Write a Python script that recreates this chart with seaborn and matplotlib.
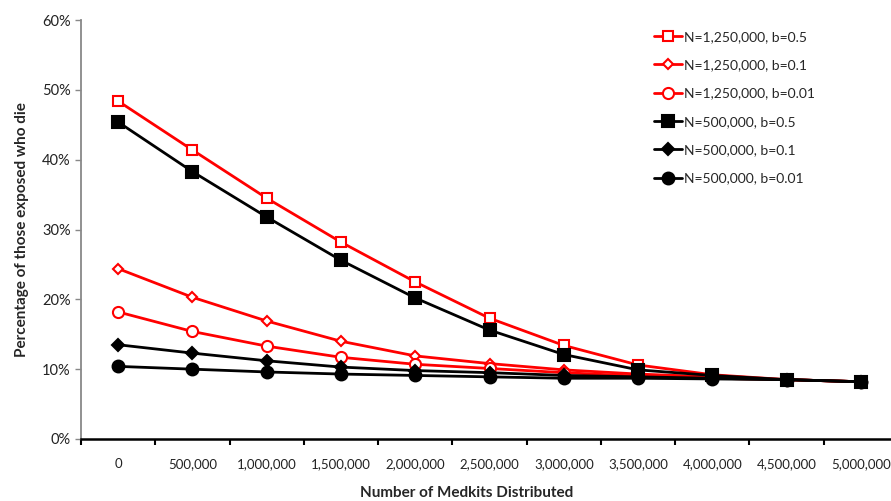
import matplotlib
matplotlib.use("Agg")
import matplotlib.pyplot as plt
import seaborn as sns
from matplotlib.ticker import FixedLocator, PercentFormatter, NullFormatter

x_labels = ['0', '500,000', '1,000,000', '1,500,000', '2,000,000', '2,500,000',
            '3,000,000', '3,500,000', '4,000,000', '4,500,000', '5,000,000']

# percent who die
n1250_b05 = [48.4, 41.4, 34.5, 28.2, 22.5, 17.3, 13.4, 10.6, 9.2, 8.5, 8.2]
n1250_b01 = [24.4, 20.3, 16.9, 14.0, 11.9, 10.8, 9.9, 9.3, 8.9, 8.5, 8.2]
n1250_b001 = [18.2, 15.4, 13.3, 11.7, 10.7, 10.1, 9.5, 9.0, 8.7, 8.5, 8.2]
n500_b05 = [45.4, 38.3, 31.8, 25.6, 20.2, 15.6, 12.1, 9.9, 9.1, 8.5, 8.2]
n500_b01 = [13.5, 12.3, 11.2, 10.3, 9.8, 9.5, 9.1, 8.9, 8.7, 8.5, 8.2]
n500_b001 = [10.4, 10.0, 9.6, 9.3, 9.1, 8.9, 8.7, 8.7, 8.6, 8.5, 8.2]

series = [
    ('N=1,250,000, b=0.5', n1250_b05, 'red', 's', 'white', 7.5),
    ('N=1,250,000, b=0.1', n1250_b01, 'red', 'D', 'white', 5.5),
    ('N=1,250,000, b=0.01', n1250_b001, 'red', 'o', 'white', 8),
    ('N=500,000, b=0.5', n500_b05, 'black', 's', 'black', 8),
    ('N=500,000, b=0.1', n500_b01, 'black', 'D', 'black', 6),
    ('N=500,000, b=0.01', n500_b001, 'black', 'o', 'black', 8.5),
]

sns.set_style("white")
plt.rcParams['font.family'] = ['Lato', 'DejaVu Sans']

fig = plt.figure(figsize=(8.91, 5.01), dpi=100)
ax = fig.add_axes([0.0909, 0.1238, 0.917, 0.836])

pos = list(range(len(x_labels)))
for name, vals, col, mk, fc, ms in series:
    sns.lineplot(x=pos, y=[v / 100 for v in vals], ax=ax, color=col, marker=mk,
                 markersize=ms, markerfacecolor=fc, markeredgecolor=col,
                 markeredgewidth=1.5, linewidth=2, label=name)

ax.set_xlim(-0.5, len(x_labels) - 0.5)
ax.set_ylim(0, 0.6)
ax.yaxis.set_major_formatter(PercentFormatter(1.0, decimals=0))
ax.set_yticks([0, 0.1, 0.2, 0.3, 0.4, 0.5, 0.6])

ax.xaxis.set_major_locator(FixedLocator([p - 0.5 for p in range(len(x_labels) + 1)]))
ax.xaxis.set_major_formatter(NullFormatter())
ax.xaxis.set_minor_locator(FixedLocator(pos))
ax.set_xticklabels(x_labels, minor=True)
ax.tick_params(axis='x', which='major', direction='out', length=4, width=1.5,
               color='black', bottom=True)
ax.tick_params(axis='x', which='minor', length=0, pad=14, labelsize=9.5,
               labelcolor='#222222')
ax.tick_params(axis='y', direction='out', length=4, width=1, color='#888888',
               left=True, labelsize=10.5, labelcolor='#222222')

for s in ['top', 'right']:
    ax.spines[s].set_visible(False)
ax.spines['left'].set_color('#888888')
ax.spines['left'].set_linewidth(1.3)
ax.spines['bottom'].set_color('black')
ax.spines['bottom'].set_linewidth(1.8)

ax.set_xlabel('Number of Medkits Distributed', fontsize=11, fontweight='bold')
ax.xaxis.set_label_coords(0.472, -0.112)
ax.set_ylabel('Percentage of those exposed who die', fontsize=11, fontweight='bold',
              labelpad=9)

ax.legend(loc='upper left', bbox_to_anchor=(0.69, 0.998), frameon=False,
          fontsize=10, handlelength=2.0, handletextpad=0.1, labelspacing=1.18,
          borderpad=0.2)

fig.savefig('out.png', dpi=100)
